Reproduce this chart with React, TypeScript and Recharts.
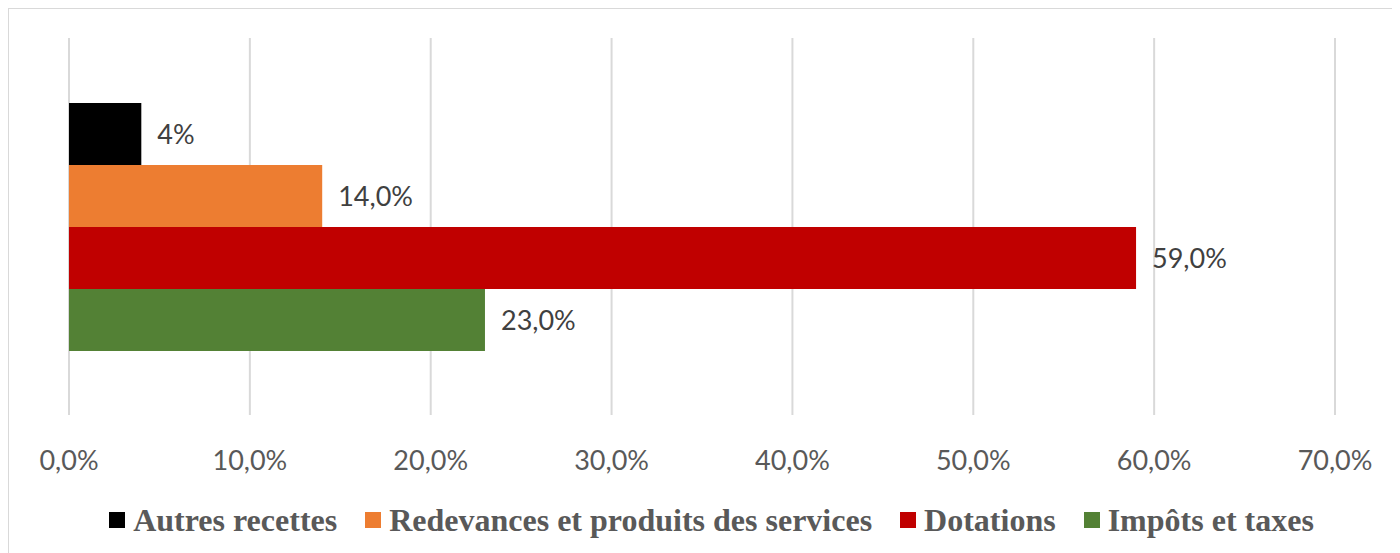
import React from "react";
import { BarChart, Bar, XAxis, YAxis, CartesianGrid, Legend, LabelList } from "recharts";

const categories = ["Recettes"];
const seriesNames = ["Autres recettes", "Redevances et produits des services", "Dotations", "Impôts et taxes"];
const seriesKeys = ["autres", "redevances", "dotations", "impots"];
const seriesValues = [4, 14, 59, 23];
const seriesColors = ["#000000", "#ED7D31", "#C00000", "#538135"];
const labelDecimals = [0, 1, 1, 1];
const xTicks = [0, 10, 20, 30, 40, 50, 60, 70];

const data = categories.map((c) => {
  const row: Record<string, string | number> = { name: c };
  seriesKeys.forEach((k, i) => {
    row[k] = seriesValues[i];
  });
  return row;
});

const fmtPct = (v: number, d: number) => v.toFixed(d).replace(".", ",") + "%";

const LegendContent = () => (
  <div
    style={{
      display: "flex",
      justifyContent: "center",
      alignItems: "center",
      height: 40,
      paddingLeft: 14,
      fontFamily: "'Liberation Serif', 'Times New Roman', serif",
      fontWeight: "bold",
      fontSize: 32,
      color: "#595959",
      whiteSpace: "nowrap",
    }}
  >
    {seriesNames.map((n, i) => (
      <div key={n} style={{ display: "flex", alignItems: "center", marginLeft: i === 0 ? 0 : 28 }}>
        <span style={{ width: 16, height: 16, background: seriesColors[i], display: "inline-block", marginRight: 8 }} />
        <span>{n}</span>
      </div>
    ))}
  </div>
);

export default function App() {
  return (
    <div
      style={{
        width: 1391,
        height: 544,
        borderTop: "1px solid #d9d9d9",
        borderLeft: "1px solid #d9d9d9",
        background: "#fff",
      }}
    >
      <BarChart
        width={1391}
        height={544}
        data={data}
        layout="vertical"
        margin={{ top: 29, right: 65, left: 60, bottom: 13 }}
        barCategoryGap={65}
        barGap={0}
      >
        <CartesianGrid horizontal={false} vertical={true} stroke="#d9d9d9" strokeWidth={2} />
        <XAxis
          type="number"
          domain={[0, 70]}
          ticks={xTicks}
          tickFormatter={(v: number) => fmtPct(v, 1)}
          axisLine={false}
          tickLine={false}
          tickMargin={30}
          height={85}
          tick={{ fill: "#595959", fontSize: 27, fontFamily: "Lato, 'Open Sans', sans-serif" }}
          interval={0}
        />
        <YAxis type="category" dataKey="name" hide width={0} />
        <Legend
          verticalAlign="bottom"
          content={<LegendContent />}
          wrapperStyle={{ left: 0, width: 1391 }}
        />
        {seriesKeys.map((k, i) => (
          <Bar key={k} dataKey={k} name={seriesNames[i]} fill={seriesColors[i]} isAnimationActive={false}>
            <LabelList
              dataKey={k}
              position="right"
              offset={16}
              formatter={(v: number) => fmtPct(v, labelDecimals[i])}
              style={{ fill: "#404040", fontSize: 27, fontFamily: "Lato, 'Open Sans', sans-serif" }}
            />
          </Bar>
        ))}
      </BarChart>
    </div>
  );
}
